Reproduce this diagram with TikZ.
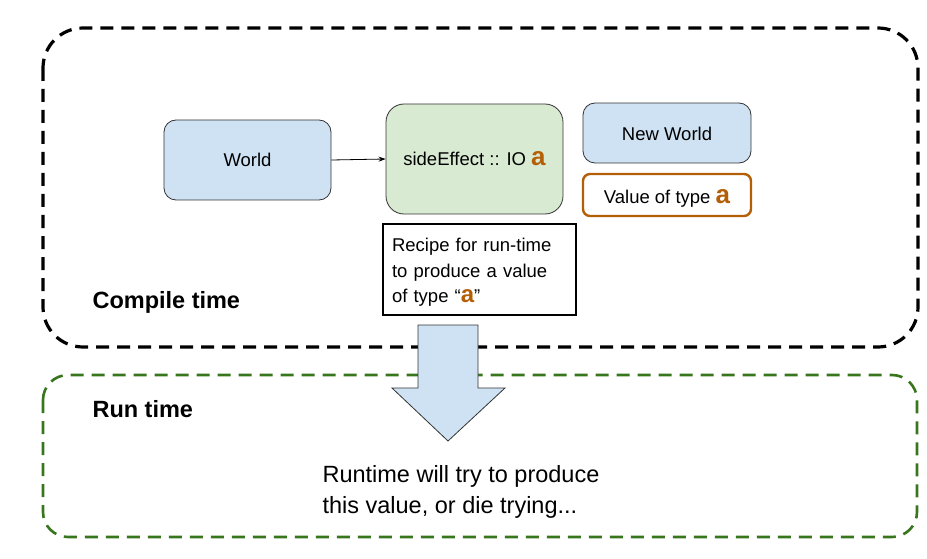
\documentclass[tikz,border=0pt]{standalone}
\usepackage{fontspec}
\setmainfont{Liberation Sans}
\usetikzlibrary{arrows.meta}
\definecolor{boxblue}{HTML}{CFE2F3}
\definecolor{boxgreen}{HTML}{D9EAD3}
\definecolor{orangea}{HTML}{B45F06}
\definecolor{rungreen}{HTML}{38761D}
\newcommand{\oa}[1][26]{{\fontsize{#1}{#1}\selectfont\bfseries\color{orangea}a}}
\begin{document}
\begin{tikzpicture}[x=1pt,y=1pt,
  region/.style={line width=3.2pt, dash pattern=on 13pt off 8pt},
  bluebox/.style={draw=black!80, line width=0.8pt, fill=boxblue, rounded corners=12pt},
  greenbox/.style={draw=black!80, line width=0.8pt, fill=boxgreen, rounded corners=18pt},
  valbox/.style={draw=orangea, line width=2.4pt, fill=white, rounded corners=7pt},
  recipebox/.style={draw=black, line width=1.2pt, fill=white},
  lbl/.style={font=\fontsize{18.5}{23}\selectfont},
  title/.style={font=\fontsize{23.5}{27}\selectfont\bfseries, anchor=west},
  bigarrow/.style={draw=black!80, line width=0.8pt, fill=boxblue}
]
\useasboundingbox (0,0) rectangle (927,-559);
% regions
\draw[region, black, rounded corners=40pt] (43,-28) rectangle (918,-347);
\draw[region, rungreen, line width=2.6pt, rounded corners=25pt] (43,-375) rectangle (917,-537);
% nodes
\node[bluebox, lbl, minimum width=167pt, minimum height=80pt] (world) at (247.5,-160) {World};
\node[greenbox, lbl, minimum width=177pt, minimum height=110pt] (side) at (474.5,-159) {sideEffect :: IO \oa};
\node[bluebox, lbl, minimum width=168pt, minimum height=60pt, text height=15pt] (newworld) at (667,-133) {New World};
\node[valbox, lbl, minimum width=168pt, minimum height=42pt, text height=21pt] (value) at (667,-195) {Value of type \oa};
\node[recipebox, minimum width=193pt, minimum height=91pt] (recipe) at (479.5,-269.5) {};
\node[lbl, text width=175pt, align=left, inner sep=0pt, font=\fontsize{18.5}{25.5}\selectfont] (recipetext) at ([yshift=-3pt]recipe.center) {Recipe for run-time\\to produce a value\\of type ``\oa[24]''};
\draw[-{Stealth[length=7pt,width=5pt]}, line width=0.8pt] (world.east) -- (side.west);
% titles
\node[title] (ctime) at (89,-302) {Compile time};
\node[title] (rtime) at (89,-409) {Run time};
\node[font=\fontsize{23.5}{31}\selectfont, align=left, anchor=north west] (runtxt) at (319,-462) {Runtime will try to produce\\this value, or die trying...};
% big arrow
\draw[bigarrow] (418,-325) -- (478,-325) -- (478,-388) -- (505,-388) -- (448,-441) -- (392,-388) -- (418,-388) -- cycle;
\end{tikzpicture}
\end{document}
